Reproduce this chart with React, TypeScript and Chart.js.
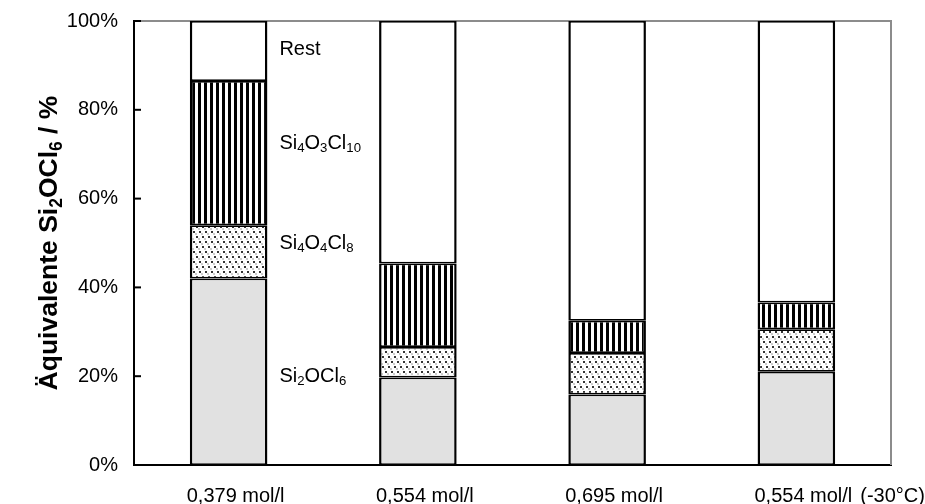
import React, { useEffect, useRef } from "react";
import { Chart, registerables } from "chart.js";

Chart.register(...registerables);

// Categories (concentration) and an extra note printed after a category label
const categories = ["0,379 mol/l", "0,554 mol/l", "0,695 mol/l", "0,554 mol/l"];
const categoryNotes = ["", "", "", "(-30°C)"];

// Share of each species, in % Si2OCl6 equivalents (stacked bottom to top)
const si2ocl6 = [42.0, 19.7, 15.9, 21.0];
const si4o4cl8 = [12.0, 6.9, 9.3, 9.6];
const si4o3cl10 = [32.5, 18.8, 7.3, 6.0];
const rest = [13.5, 54.6, 67.5, 63.4];

// Series names; "_n" marks a subscript
const seriesNames = ["Si_2OCl_6", "Si_4O_4Cl_8", "Si_4O_3Cl_10", "Rest"];

const yTicks = [0, 20, 40, 60, 80, 100];
const yTitle = "Äquivalente Si_2OCl_6 / %";

const FONT = '"Liberation Sans", Arial, Helvetica, sans-serif';

// Where each series name sits beside the first column (axis units)
const NAME_LEVELS = [20, 50, 72.5, 93.5];

function stripePattern(ctx: CanvasRenderingContext2D) {
  const c = document.createElement("canvas");
  c.width = 6;
  c.height = 6;
  const g = c.getContext("2d")!;
  g.fillStyle = "#fff";
  g.fillRect(0, 0, 6, 6);
  g.fillStyle = "#000";
  g.fillRect(0, 0, 3, 6);
  return ctx.createPattern(c, "repeat")!;
}

function dotPattern(ctx: CanvasRenderingContext2D) {
  const c = document.createElement("canvas");
  c.width = 6;
  c.height = 10;
  const g = c.getContext("2d")!;
  g.fillStyle = "#fff";
  g.fillRect(0, 0, 6, 10);
  g.fillStyle = "#333";
  g.fillRect(1, 1, 2, 2);
  g.fillRect(4, 6, 2, 2);
  g.fillStyle = "#999";
  g.fillRect(3, 3.5, 2, 1);
  g.fillRect(0, 8.5, 2, 1);
  return ctx.createPattern(c, "repeat")!;
}

type Part = { t: string; sub: boolean };
function parseRich(s: string): Part[] {
  const parts: Part[] = [];
  const re = /_(\d+)|([^_]+?)(?=_\d|$)/g;
  let m: RegExpExecArray | null;
  while ((m = re.exec(s))) {
    if (m[1] !== undefined) parts.push({ t: m[1], sub: true });
    else if (m[2]) parts.push({ t: m[2], sub: false });
  }
  return parts;
}

function richWidth(ctx: CanvasRenderingContext2D, parts: Part[], size: number, weight: string) {
  let w = 0;
  for (const p of parts) {
    ctx.font = `${weight} ${p.sub ? size * 0.66 : size}px ${FONT}`;
    w += ctx.measureText(p.t).width;
  }
  return w;
}

function drawRich(
  ctx: CanvasRenderingContext2D,
  text: string,
  x: number,
  y: number,
  size: number,
  weight: string,
  align: "left" | "center"
) {
  const parts = parseRich(text);
  const total = richWidth(ctx, parts, size, weight);
  let cx = align === "center" ? x - total / 2 : x;
  ctx.textAlign = "left";
  ctx.textBaseline = "middle";
  ctx.fillStyle = "#000";
  for (const p of parts) {
    const s = p.sub ? size * 0.66 : size;
    ctx.font = `${weight} ${s}px ${FONT}`;
    ctx.fillText(p.t, cx, p.sub ? y + size * 0.28 : y);
    cx += ctx.measureText(p.t).width;
  }
}

const X_LABEL_OFFSET = 7;
const X_LABEL_PADDING = 19;
const TICK_FONT_SIZE = 20;

const decorations = {
  id: "decorations",
  beforeDatasetsDraw(chart: any) {
    const { ctx, chartArea: a } = chart;
    ctx.save();
    ctx.strokeStyle = "#8c8c8c";
    ctx.lineWidth = 2;
    ctx.beginPath();
    ctx.moveTo(a.left, a.top);
    ctx.lineTo(a.right, a.top);
    ctx.lineTo(a.right, a.bottom);
    ctx.stroke();
    ctx.restore();
  },
  afterDatasetsDraw(chart: any) {
    const { ctx, chartArea: a, scales } = chart;
    const y = scales.y;
    const x = scales.x;
    ctx.save();

    // inward tick marks on the value axis
    ctx.strokeStyle = "#000";
    ctx.lineWidth = 2;
    for (const v of yTicks) {
      const py = y.getPixelForValue(v);
      ctx.beginPath();
      ctx.moveTo(a.left, py);
      ctx.lineTo(a.left + 7, py);
      ctx.stroke();
    }

    // series names beside the first column
    chart.data.datasets.forEach((_ds: any, i: number) => {
      const el = chart.getDatasetMeta(i).data[0];
      const lx = el.x + el.width / 2 + 12;
      const ly = y.getPixelForValue(NAME_LEVELS[i]);
      drawRich(ctx, seriesNames[i], lx, ly, 20, "normal", "left");
    });

    // notes following the category labels
    categoryNotes.forEach((note, i) => {
      if (!note) return;
      ctx.font = `${TICK_FONT_SIZE}px ${FONT}`;
      const lw = ctx.measureText(categories[i]).width;
      const cx = x.getPixelForValue(i) + X_LABEL_OFFSET + lw / 2 + 8;
      const cy = x.top + X_LABEL_PADDING + (TICK_FONT_SIZE * 1.2) / 2;
      ctx.fillStyle = "#000";
      ctx.textAlign = "left";
      ctx.textBaseline = "middle";
      ctx.fillText(note, cx, cy);
    });

    // value axis title, rotated
    ctx.translate(50, (a.top + a.bottom) / 2);
    ctx.rotate(-Math.PI / 2);
    drawRich(ctx, yTitle, 0, 0, 26.5, "bold", "center");
    ctx.restore();
  },
};

export default function App() {
  const ref = useRef<HTMLCanvasElement | null>(null);

  useEffect(() => {
    const canvas = ref.current!;
    const ctx = canvas.getContext("2d")!;
    const stripes = stripePattern(ctx);
    const dots = dotPattern(ctx);

    const common = {
      borderColor: "#000",
      borderWidth: { top: 1.75, bottom: 1.75, left: 2.5, right: 2.5 },
      borderSkipped: false as const,
      barPercentage: 0.41,
      categoryPercentage: 1,
    };

    const chart = new Chart(canvas, {
      type: "bar",
      data: {
        labels: categories,
        datasets: [
          { label: "Si2OCl6", data: si2ocl6, backgroundColor: "#e1e1e1", ...common },
          { label: "Si4O4Cl8", data: si4o4cl8, backgroundColor: dots, ...common },
          { label: "Si4O3Cl10", data: si4o3cl10, backgroundColor: stripes, ...common },
          { label: "Rest", data: rest, backgroundColor: "#fff", ...common },
        ],
      },
      options: {
        animation: false,
        responsive: false,
        layout: { autoPadding: false, padding: { top: 21, right: 34, left: 0, bottom: 0 } },
        plugins: { legend: { display: false }, tooltip: { enabled: false } },
        scales: {
          x: {
            stacked: true,
            grid: { display: false, drawTicks: false },
            border: { display: true, color: "#000", width: 2 },
            ticks: {
              color: "#000",
              font: { family: FONT, size: TICK_FONT_SIZE },
              padding: X_LABEL_PADDING,
              labelOffset: X_LABEL_OFFSET,
              maxRotation: 0,
              autoSkip: false,
            },
            afterFit: (s: any) => {
              s.height = 39;
              s.paddingLeft = 0;
              s.paddingRight = 0;
            },
          },
          y: {
            stacked: true,
            min: 0,
            max: 100,
            grid: { display: false, drawTicks: false },
            border: { display: true, color: "#000", width: 2 },
            ticks: {
              stepSize: 20,
              color: "#000",
              padding: 16,
              font: { family: FONT, size: TICK_FONT_SIZE },
              callback: (v: any) => `${v}%`,
            },
            afterFit: (s: any) => {
              s.width = 134;
              s.paddingTop = 0;
              s.paddingBottom = 0;
            },
          },
        },
      },
      plugins: [decorations],
    });

    return () => chart.destroy();
  }, []);

  return (
    <div style={{ position: "fixed", left: 0, top: 0, width: 925, height: 504, background: "#fff" }}>
      <canvas ref={ref} width={925} height={504} />
    </div>
  );
}
